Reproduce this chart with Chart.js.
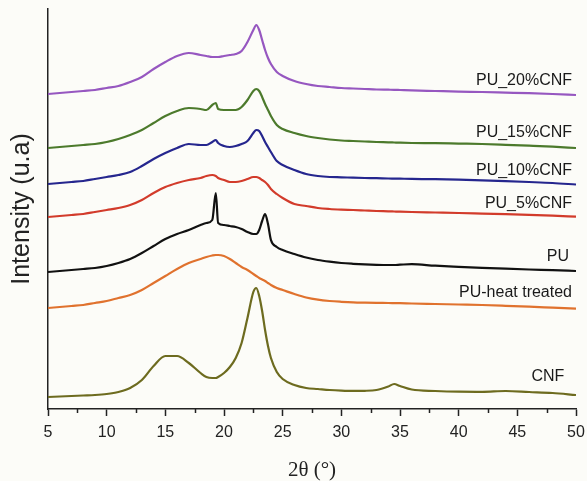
<!DOCTYPE html>
<html>
<head>
<meta charset="utf-8">
<script src="https://cdn.jsdelivr.net/npm/chart.js@4/dist/chart.umd.min.js"></script>
<style>
  html, body { margin: 0; padding: 0; background: #fcfcf8; }
  #wrap { width: 587px; height: 481px; position: relative; }
</style>
</head>
<body>
<div id="wrap"><canvas id="c"></canvas></div>
<script>
// 2θ sampling positions (degrees)
const twoTheta = [5,6,7,8,9,10,11,12,13,14,15,16,17,18,
  18.5,19,19.3,19.5,20,20.5,21,21.5,22,22.5,22.75,23,23.25,23.5,23.75,24,24.5,25,
  26,27,28,29,30,31,32,33,34,
  34.5,35,36,38,40,42,44,46,48,50];

// Intensities (arbitrary units, curves stacked with offsets as in the figure)
const pu20 = [315,316,317,318,319,321,323,327,332,340,347,353,356,354,
  353,352,352,352,353,354,355,358,367,379,384,379,369,359,351,345,337,333,
  328,325,323,322,321,320.5,320,319.5,319.3,
  319.2,319,318.6,318,317.4,317,316.4,315.8,315,314];
const pu15 = [261,262,263,264,265,267,270,274,279,286,293,298,301,300,
  299,304,306,300,299,299,299,302,309,318,320,318,312,305,299,293,284,280,
  276,273,271,269.5,268.5,268,267.5,267,266.7,
  266.5,266.3,266,265.8,265.4,265,264.2,263.3,262.3,261];
const pu10 = [225,226,227,228,230,232,234,237,243,250,256,261,265,264,
  264,267,269,266,263,262,263,265,268,276,279,278,273,267,262,257,248,244,
  239,235,233,232,231.7,231.3,231,230.8,230.5,
  230.4,230.3,230.1,229.8,229.3,228.6,227.9,227,226,224.5];
const pu5 = [192,193,194,195,197,199,201,204,209,216,222,226,229,231,
  233,234,233,231,229,227,227,228,230,232,232,231,229,227,224,220,215,211,
  205,203,201,200,199.4,199,198.5,198,197.7,
  197.5,197.3,197,196.5,196,195.4,194.8,194.2,193.4,192.3];
const pu = [137,138,139,140,141,143,146,150,156,163,170,175,179,184,
  186,189,216,186,184,183,182,180,177,175,175,179,188,195,185,169,162,159,
  155,151.5,149,147.3,146,145.2,144.6,144.2,144,
  144,144.3,144.8,143.3,142.2,141.2,140.3,139.5,138.8,138];
const puHeat = [101,102,103,104,106,108,111,114,119,126,133,140,146,150,
  152,153.5,154,154,153,150,146,142,139,135,133,131,129.5,128,126,124,121,119,
  115,111.5,109.3,108,107.2,106.6,106.3,106.1,106,
  105.9,105.8,105.5,105,104.5,104,103.2,102.3,101.3,100.3];
const cnf = [12,12.5,13,13.5,14,15,17,21,29,43,53,53,46,36,
  32,31,31,32,36,42,51,66,91,117,121,113,98,79,63,51,37,30,
  24,21,20,19,18.4,18.1,18.2,19,22.5,
  25,23,19.5,18,17.3,17.2,18,17,16,14];

const seriesNames = ["PU_20%CNF","PU_15%CNF","PU_10%CNF","PU_5%CNF","PU","PU-heat treated","CNF"];
const seriesValues = [pu20, pu15, pu10, pu5, pu, puHeat, cnf];
const seriesColors = ["#9657c0","#4c7a2c","#25268e","#d23b2b","#111111","#e0722e","#6d6b1f"];

// curve label anchors (data units: 2θ of right edge, intensity of label centre)
const labelX = [49.66,49.66,49.66,49.66,49.4,49.66,49.0];
const labelY = [328,276,238,205,152,116,32];

// x-axis ticks
const xMin = 5, xMax = 50, xMajorStep = 5;
const xMinorTicks = [7.5,12.5,17.5,22.5,27.5,32.5,37.5,42.5,47.5];

const datasets = seriesNames.map((name, i) => ({
  label: name,
  data: twoTheta.map((t, k) => ({ x: t, y: seriesValues[i][k] })),
  borderColor: seriesColors[i],
  backgroundColor: seriesColors[i],
  borderWidth: 2.2,
  pointRadius: 0,
  cubicInterpolationMode: 'monotone',
  fill: false
}));

const sansFont = "'Liberation Sans', Arial, sans-serif";
const serifFont = "'Liberation Serif', 'Times New Roman', serif";

const bgPlugin = {
  id: 'bg',
  beforeDraw(chart) {
    const ctx = chart.ctx;
    ctx.save();
    ctx.fillStyle = '#fcfcf8';
    ctx.fillRect(0, 0, chart.width, chart.height);
    ctx.restore();
  }
};

const minorTickPlugin = {
  id: 'minorTicks',
  afterDraw(chart) {
    const xs = chart.scales.x;
    const ctx = chart.ctx;
    ctx.save();
    ctx.strokeStyle = '#222';
    ctx.lineWidth = 1.5;
    xMinorTicks.forEach(v => {
      const px = Math.round(xs.getPixelForValue(v)) + 0.5;
      ctx.beginPath();
      ctx.moveTo(px, xs.top);
      ctx.lineTo(px, xs.top + 4);
      ctx.stroke();
    });
    ctx.restore();
  }
};

const curveLabelPlugin = {
  id: 'curveLabels',
  afterDatasetsDraw(chart) {
    const xs = chart.scales.x, ys = chart.scales.y;
    const ctx = chart.ctx;
    ctx.save();
    ctx.font = "16px " + sansFont;
    ctx.fillStyle = '#1a1a1a';
    ctx.textAlign = 'right';
    ctx.textBaseline = 'middle';
    seriesNames.forEach((name, i) => {
      ctx.fillText(name, xs.getPixelForValue(labelX[i]), ys.getPixelForValue(labelY[i]));
    });
    ctx.restore();
  }
};

new Chart(document.getElementById('c'), {
  type: 'line',
  data: { datasets },
  options: {
    responsive: true,
    maintainAspectRatio: false,
    animation: false,
    events: [],
    layout: { padding: { top: 9, right: 11, left: 0, bottom: 0 } },
    plugins: {
      legend: { display: false },
      tooltip: { enabled: false }
    },
    scales: {
      x: {
        type: 'linear',
        min: xMin, max: xMax,
        ticks: {
          stepSize: xMajorStep,
          autoSkip: false,
          maxRotation: 0,
          padding: 7,
          color: '#222',
          font: { family: sansFont, size: 16 }
        },
        grid: { drawOnChartArea: false, drawTicks: true, tickLength: 7, tickWidth: 1.5, tickColor: '#222' },
        border: { display: true, color: '#222', width: 1.5 },
        title: {
          display: true,
          text: '2θ (°)',
          color: '#222',
          font: { family: serifFont, size: 21, lineHeight: 1 },
          padding: { top: 0, bottom: 0 }
        },
        afterFit(scale) {
          scale.height = 72;
          scale.paddingLeft = 0;
          scale.paddingRight = 0;
        }
      },
      y: {
        type: 'linear',
        min: 0, max: 400,
        ticks: { display: false },
        grid: { display: false, drawTicks: false },
        border: { display: true, color: '#222', width: 1.5 },
        title: {
          display: true,
          text: 'Intensity (u.a)',
          color: '#222',
          font: { family: sansFont, size: 25, lineHeight: 1.2 },
          padding: { top: 7, bottom: 0 }
        },
        afterFit(scale) {
          scale.width = 48;
          scale.paddingTop = 0;
          scale.paddingBottom = 0;
        }
      }
    }
  },
  plugins: [bgPlugin, minorTickPlugin, curveLabelPlugin]
});
</script>
</body>
</html>
